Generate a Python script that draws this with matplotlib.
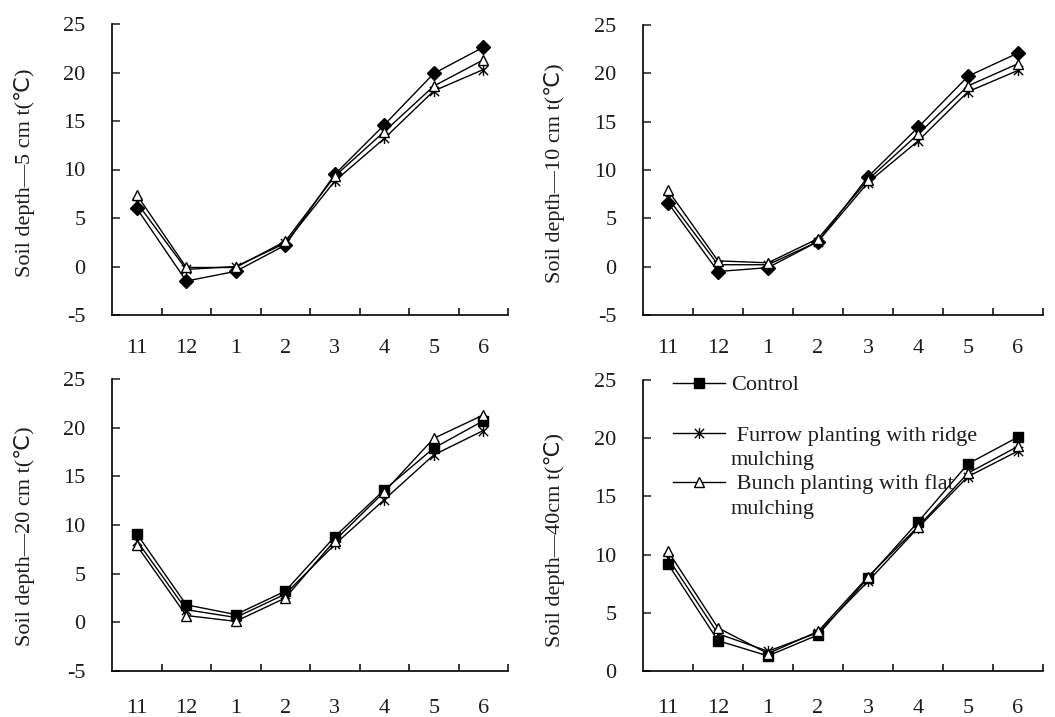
#!/usr/bin/env python3

import matplotlib
matplotlib.use("Agg")
import matplotlib.pyplot as plt
from matplotlib.lines import Line2D
from matplotlib.path import Path
from matplotlib.ticker import FixedLocator

plt.rcParams['font.family'] = ['Liberation Serif', 'DejaVu Sans']
plt.rcParams['axes.unicode_minus'] = False

months = ['11', '12', '1', '2', '3', '4', '5', '6']

# 5 cm
control_5 = [6.0, -1.5, -0.5, 2.2, 9.5, 14.6, 19.9, 22.6]
furrow_5 = [6.6, -0.3, 0.0, 2.4, 8.8, 13.2, 18.1, 20.3]
bunch_5 = [7.4, -0.1, -0.1, 2.6, 9.3, 13.9, 18.6, 21.3]

# 10 cm
control_10 = [6.6, -0.5, -0.1, 2.6, 9.3, 14.4, 19.7, 22.1]
furrow_10 = [7.1, 0.2, 0.2, 2.6, 8.7, 13.0, 18.1, 20.3]
bunch_10 = [7.9, 0.6, 0.4, 2.9, 9.0, 13.7, 18.7, 21.0]

# 20 cm
control_20 = [9.1, 1.8, 0.8, 3.2, 8.8, 13.6, 17.9, 20.7]
furrow_20 = [8.4, 1.3, 0.5, 2.9, 8.0, 12.6, 17.2, 19.7]
bunch_20 = [7.9, 0.7, 0.1, 2.5, 8.4, 13.4, 18.9, 21.3]

# 40 cm
control_40 = [9.2, 2.6, 1.3, 3.1, 8.0, 12.8, 17.8, 20.1]
furrow_40 = [9.7, 3.2, 1.7, 3.3, 7.7, 12.3, 16.7, 18.9]
bunch_40 = [10.3, 3.7, 1.5, 3.4, 8.1, 12.4, 17.0, 19.3]

ylabels = ['Soil depth\u20145 cm t(\u2103)',
           'Soil depth\u201410 cm t(\u2103)',
           'Soil depth\u201420 cm t(\u2103)',
           'Soil depth\u201440cm t(\u2103)']

legend_labels = ['Control',
                 ' Furrow planting with ridge', 'mulching',
                 ' Bunch planting with flat', 'mulching']

TXT = '#1c1c1c'
W, H = 1055, 717

# excel-style star: an x with a vertical bar through it
STAR = Path([(-1, -1), (1, 1), (-1, 1), (1, -1), (0, -1.2), (0, 1.2)],
            [Path.MOVETO, Path.LINETO, Path.MOVETO, Path.LINETO, Path.MOVETO, Path.LINETO])


def px_rect(left, top, right, bottom):
    return [left / W, 1 - bottom / H, (right - left) / W, (bottom - top) / H]


def style_axis(ax, ymin, ylabel, label_y, xpad):
    n = len(months)
    ax.set_xlim(-0.5, n - 0.5)
    ax.set_ylim(ymin, 25)
    ax.set_yticks(range(ymin, 26, 5))
    ax.set_xticks(range(n))
    ax.set_xticklabels(months)
    ax.xaxis.set_minor_locator(FixedLocator([i + 0.5 for i in range(n)]))
    ax.tick_params(axis='x', which='major', length=0, pad=xpad, labelsize=16, colors=TXT)
    ax.tick_params(axis='x', which='minor', direction='in', length=5, width=1.1)
    ax.tick_params(axis='y', direction='in', length=6, width=1.1, pad=19, labelsize=16, colors=TXT)
    for s in ['top', 'right']:
        ax.spines[s].set_visible(False)
    for s in ['left', 'bottom']:
        ax.spines[s].set_linewidth(1.2)
    ax.set_ylabel(ylabel, fontsize=16, color=TXT)
    ax.yaxis.set_label_coords(-0.195, label_y)


def draw_panel(ax, control, furrow, bunch, ctrl_marker, ctrl_ms):
    x = range(len(months))
    kw = dict(color='black', lw=1.0)
    h1, = ax.plot(x, control, marker=ctrl_marker, ms=ctrl_ms, mfc='black', mec='black', **kw)
    h2, = ax.plot(x, furrow, marker=STAR, ms=8, mec='black', mew=1.0, **kw)
    h3, = ax.plot(x, bunch, marker='^', ms=7.5, mfc='white', mec='black', mew=1.0, **kw)
    return [h1, h2, h3]


fig = plt.figure(figsize=(10.55, 7.17), dpi=100)

ax1 = fig.add_axes(px_rect(112, 24, 508, 315))
draw_panel(ax1, control_5, furrow_5, bunch_5, 'D', 7)
style_axis(ax1, -5, ylabels[0], 0.49, 17)

ax2 = fig.add_axes(px_rect(643, 25, 1043, 315))
draw_panel(ax2, control_10, furrow_10, bunch_10, 'D', 7)
style_axis(ax2, -5, ylabels[1], 0.49, 17)

ax3 = fig.add_axes(px_rect(112, 379, 508, 671))
draw_panel(ax3, control_20, furrow_20, bunch_20, 's', 7)
style_axis(ax3, -5, ylabels[2], 0.46, 20)

ax4 = fig.add_axes(px_rect(643, 380, 1043, 671))
handles = draw_panel(ax4, control_40, furrow_40, bunch_40, 's', 7)
style_axis(ax4, 0, ylabels[3], 0.45, 20)

# legend: control on its own row, then two-line entries with the marker on the first line
blank = Line2D([], [], linestyle='none')
leg_kw = dict(loc='upper left', frameon=False, fontsize=16, handlelength=2.35,
              handletextpad=0.25, labelspacing=0.17, borderaxespad=0.0, borderpad=0.0)
leg1 = ax4.legend(handles[:1], legend_labels[:1], bbox_to_anchor=(0.075, 1.018), **leg_kw)
ax4.add_artist(leg1)
leg2 = ax4.legend([handles[1], blank, handles[2], blank], legend_labels[1:],
                  bbox_to_anchor=(0.075, 0.845), **leg_kw)
for lg in (leg1, leg2):
    for t in lg.get_texts():
        t.set_color(TXT)

fig.savefig('out.png', dpi=100)
